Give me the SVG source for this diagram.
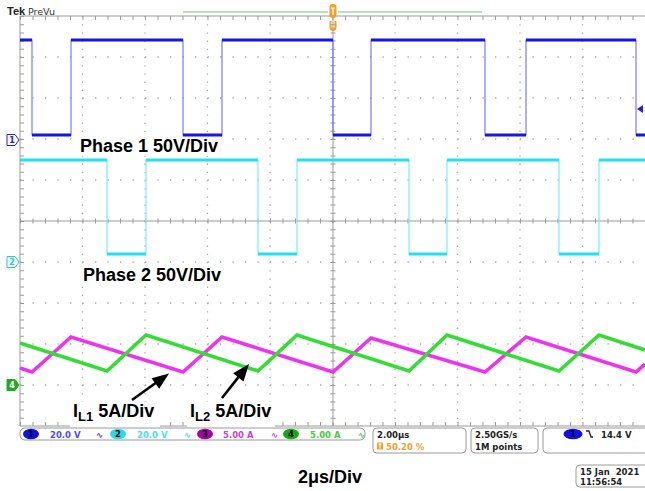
<svg xmlns="http://www.w3.org/2000/svg" width="645" height="491" viewBox="0 0 645 491">
<style>
.gv{stroke:#a8a8a8;stroke-width:1.3;stroke-dasharray:1.3 6.9;fill:none}
.gh{stroke:#a8a8a8;stroke-width:1.3;stroke-dasharray:1.3 11.2;fill:none}
.ax{stroke:#9a9a9a;stroke-width:1;fill:none}
.lbl{font-family:"Liberation Sans",Arial,sans-serif;font-weight:bold;font-size:18px;fill:#000}
.st{font-family:"DejaVu Sans","Liberation Sans",sans-serif;font-weight:bold;font-size:8.5px}
.box{fill:#fff;stroke:#9a9a9a;stroke-width:1}
.thin{fill:none;stroke-width:1.2}
.thick{fill:none;stroke-width:3.2;stroke-linecap:butt}
.cur{fill:none;stroke-width:3.6;stroke-linejoin:miter}
.head{fill:#000;stroke:none}
</style>
<rect width="645" height="491" fill="#fff"/>

<g id="grid">
<path class="gv" d="M82.5,16V426M145,16V426M207.5,16V426M270,16V426M395,16V426M457.5,16V426M520,16V426M582.5,16V426"/>
<path class="gh" d="M20,57H645M20,98H645M20,139H645M20,180H645M20,262H645M20,303H645M20,344H645M20,385H645"/>
<path class="ax" d="M20,221H645M333,16V426"/>
<path d="M20,221H645" stroke="#9a9a9a" stroke-width="5" stroke-dasharray="1 11.5" fill="none"/>
<path d="M333,16V426" stroke="#9a9a9a" stroke-width="5" stroke-dasharray="1 7.2" fill="none"/>
<path class="ax" d="M20,16H645M20,16V426M20,426H645"/>
<path d="M20,18H645" stroke="#9a9a9a" stroke-width="4" stroke-dasharray="1 11.5" fill="none"/>
<path d="M20,424H645" stroke="#9a9a9a" stroke-width="4" stroke-dasharray="1 11.5" fill="none"/>
<path d="M22,16V426" stroke="#9a9a9a" stroke-width="4" stroke-dasharray="1 7.2" fill="none"/>
</g>

<g id="label-backgrounds" fill="#fff">
<rect x="77" y="137" width="148" height="19"/>
<rect x="80" y="265" width="146" height="19"/>
<rect x="70" y="402" width="90" height="26"/>
<rect x="187" y="402" width="88" height="26"/>
</g>

<g id="header">
<text x="7" y="15" font-family="Liberation Sans,Arial,sans-serif" font-weight="bold" font-size="11" fill="#222">Tek</text>
<text x="28" y="15" font-family="DejaVu Sans,sans-serif" font-size="9.5" fill="#333">PreVu</text>
<path d="M183,12H328M338,12H482" stroke="#66cc66" stroke-width="1.2"/>
<rect x="329.5" y="4" width="7" height="14" rx="3" fill="#f0a030"/>
<path d="M331,8H335M333,8V15" stroke="#fff" stroke-width="1.2"/>
<path d="M329.5,21V27Q329.5,31 333,31Q336.5,31 336.5,27V21H334.5V27Q333,29 331.5,27V21Z" fill="#f0a030"/>
</g>

<g id="ch-markers" font-family="DejaVu Sans,sans-serif" font-size="8" font-weight="bold" text-anchor="middle">
<path d="M7,134.5H15L19,140L15,145.5H7Z" fill="#fff" stroke="#2020e0"/>
<text x="12" y="143" fill="#2020e0">1</text>
<path d="M7,256.5H15L19,262L15,267.5H7Z" fill="#fff" stroke="#20c8d8"/>
<text x="12" y="265" fill="#20c8d8">2</text>
<path d="M7,379.5H15L19,385L15,390.5H7Z" fill="#22aa22" stroke="#22aa22"/>
<text x="12" y="388" fill="#fff">4</text>
<path d="M637,109L643,105V113Z" fill="#2020e0"/>
</g>

<g id="traces">
<path class="thin" stroke="#7a7aff" d="M20,40H32V135H71V40H183V135H222V40H333V135H371V40H485V135H526V40H636V135H645"/>
<path class="thick" stroke="#1414ee" d="M20,40H32M71,40H183M222,40H333M371,40H485M526,40H636M32,135H71M183,135H222M333,135H371M485,135H526M636,135H645"/>
<path class="thin" stroke="#70f0f8" d="M20,160H107V254H146V160H258V254H297V160H409V254H447V160H559V254H599V160H645"/>
<path class="thick" stroke="#22e0ee" d="M20,160H107M146,160H258M297,160H409M447,160H559M599,160H645M107,254H146M258,254H297M409,254H447M559,254H599"/>
<path class="cur" stroke="#ee33ee" d="M20,368L32,372L71,337L183,372L222,337L333,372L371,338L485,372L526,337L636,372L645,364"/>
<path class="cur" stroke="#33dd33" d="M20,343L107,371L146,335L258,371L297,335L409,371L447,335L559,371L599,335L645,350"/>
</g>

<g id="labels">
<text class="lbl" x="80" y="152">Phase 1 50V/Div</text>
<text class="lbl" x="83" y="281">Phase 2 50V/Div</text>
<text class="lbl" x="73" y="417">I<tspan font-size="13" dy="4">L1</tspan><tspan dy="-4"> 5A/Div</tspan></text>
<text class="lbl" x="190" y="417">I<tspan font-size="13" dy="4">L2</tspan><tspan dy="-4"> 5A/Div</tspan></text>
<text class="lbl" x="298" y="483" font-size="17">2μs/Div</text>
</g>

<g id="connectors">
<path d="M132,400L156,382.7" stroke="#000" stroke-width="2.6" fill="none"/>
<path class="head" d="M169,373.5L159.2,388.8L151.6,378.2Z"/>
<path d="M222,398L239,376.4" stroke="#000" stroke-width="2.6" fill="none"/>
<path class="head" d="M249,364L243.5,381.4L233.2,373.3Z"/>
</g>

<g id="status">
<rect class="box" x="20" y="428" width="345" height="12" rx="5"/>
<ellipse cx="31" cy="434" rx="8" ry="5.3" fill="#1010e8"/>
<text class="st" x="31" y="437" text-anchor="middle" fill="#000">1</text>
<text class="st" x="50" y="437.5" fill="#4a4aff">20.0 V</text>
<text class="st" x="96" y="437.5" fill="#4a4aff" font-size="8">∿</text>
<ellipse cx="118" cy="434" rx="8" ry="5.3" fill="#22dde8"/>
<text class="st" x="118" y="437" text-anchor="middle" fill="#000">2</text>
<text class="st" x="137" y="437.5" fill="#44e0ee">20.0 V</text>
<text class="st" x="184" y="437.5" fill="#44e0ee" font-size="8">∿</text>
<ellipse cx="205" cy="434" rx="8" ry="5.3" fill="#aa00aa"/>
<text class="st" x="205" y="437" text-anchor="middle" fill="#000">3</text>
<text class="st" x="223" y="437.5" fill="#cc44cc">5.00 A</text>
<text class="st" x="271" y="437.5" fill="#cc44cc" font-size="8">∿</text>
<ellipse cx="291" cy="434" rx="8" ry="5.3" fill="#11aa11"/>
<text class="st" x="291" y="437" text-anchor="middle" fill="#000">4</text>
<text class="st" x="310" y="437.5" fill="#44cc44">5.00 A</text>
<text class="st" x="358" y="437.5" fill="#44cc44" font-size="8">∿</text>

<rect class="box" x="373" y="428" width="93" height="25" rx="4"/>
<text class="st" x="377" y="438" fill="#222">2.00μs</text>
<rect x="377" y="442.5" width="6" height="7" fill="#f0a030"/>
<path d="M378.5,444H381.5M380,444V448.5" stroke="#fff" stroke-width="1"/>
<text class="st" x="386" y="450" fill="#f0a030">50.20 %</text>

<rect class="box" x="471" y="428" width="67" height="25" rx="4"/>
<text class="st" x="475" y="438" fill="#222">2.50GS/s</text>
<text class="st" x="475" y="450" fill="#222">1M points</text>

<rect class="box" x="543" y="428" width="110" height="25" rx="4"/>
<ellipse cx="573" cy="434" rx="9.5" ry="5.3" fill="#1010e8"/>
<text class="st" x="573" y="437" text-anchor="middle" fill="#000">1</text>
<path d="M586,431H589L591,437H593" stroke="#222" stroke-width="1.3" fill="none"/>
<text class="st" x="601" y="438" fill="#222">14.4 V</text>

<rect class="box" x="576" y="465" width="80" height="22" rx="4"/>
<text class="st" x="580" y="475" fill="#222" xml:space="preserve">15 Jan  2021</text>
<text class="st" x="580" y="485" fill="#222">11:56:54</text>
</g>
</svg>
